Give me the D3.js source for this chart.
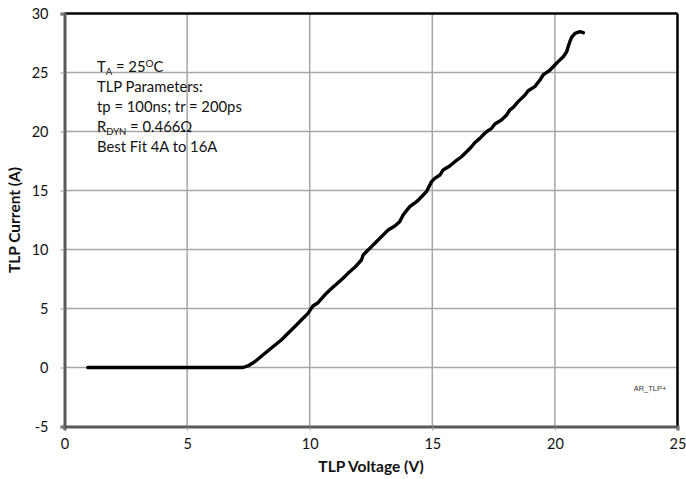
<!DOCTYPE html>
<html><head><meta charset="utf-8">
<script src="https://cdn.jsdelivr.net/npm/d3@7"></script>
<style>
body{margin:0;background:#fff;}
svg{font-family:Lato, "Liberation Sans", sans-serif;}
</style></head>
<body><div id="chart"></div>
<script>
const voltage = [0.95,7.28,7.48,7.76,8.09,8.50,8.84,9.18,9.46,9.66,9.93,10.13,10.34,10.61,10.82,11.36,11.56,11.84,12.11,12.18,12.38,12.52,12.72,13.06,13.20,13.47,13.67,13.81,14.08,14.36,14.56,14.76,14.97,15.10,15.31,15.44,15.71,15.92,16.19,16.40,16.60,16.73,16.94,17.07,17.21,17.42,17.55,17.82,18.03,18.16,18.30,18.50,18.78,18.91,19.18,19.39,19.52,19.80,19.93,20.13,20.34,20.48,20.54,20.61,20.68,20.82,21.02,21.16];
const current = [0,0,0.13,0.49,1.06,1.76,2.33,3.03,3.60,4.03,4.59,5.21,5.49,6.14,6.57,7.56,7.98,8.49,9.11,9.53,9.96,10.24,10.66,11.37,11.65,11.99,12.36,12.92,13.63,14.05,14.47,14.90,15.75,16.03,16.31,16.74,17.08,17.44,17.86,18.29,18.71,19.05,19.42,19.70,19.98,20.27,20.64,20.97,21.40,21.82,22.05,22.53,23.09,23.46,23.80,24.36,24.79,25.21,25.49,25.92,26.34,26.76,27.19,27.61,27.98,28.32,28.46,28.37];
const xTicks = [0,5,10,15,20,25];
const yTicks = [-5,0,5,10,15,20,25,30];
const xTitle = "TLP Voltage (V)";
const yTitle = "TLP Current (A)";
const tag = "AR_TLP+";

const W=686,H=479;
const L=64.5,R=677.5,T=13.5,B=426.5;
const svg=d3.select("#chart").append("svg").attr("width",W).attr("height",H);
const x=d3.scaleLinear().domain([0,25]).range([L,R]);
const y=d3.scaleLinear().domain([-5,30]).range([B,T]);
const fmt=d=>String(d);

// grid
svg.append("g").selectAll("line").data(xTicks.slice(1,-1)).join("line")
  .attr("x1",d=>x(d)).attr("x2",d=>x(d)).attr("y1",T).attr("y2",B)
  .attr("stroke","#a6a6a6").attr("stroke-width",1.5);
svg.append("g").selectAll("line").data(yTicks.slice(1,-1)).join("line")
  .attr("y1",d=>y(d)).attr("y2",d=>y(d)).attr("x1",L).attr("x2",R)
  .attr("stroke","#a6a6a6").attr("stroke-width",1.5);

// frame top/right
svg.append("line").attr("x1",L).attr("x2",R).attr("y1",T).attr("y2",T).attr("stroke","#000").attr("stroke-width",2.5);
svg.append("line").attr("x1",R).attr("x2",R).attr("y1",T).attr("y2",B).attr("stroke","#000").attr("stroke-width",2.5);

// axes
const xa=svg.append("g").attr("transform",`translate(0,${B})`)
  .call(d3.axisBottom(x).tickValues(xTicks).tickFormat(fmt).tickSize(4).tickPadding(8));
const ya=svg.append("g").attr("transform",`translate(${L},0)`)
  .call(d3.axisLeft(y).tickValues(yTicks).tickFormat(fmt).tickSize(4).tickPadding(12));
[xa,ya].forEach(a=>{
  a.select(".domain").attr("stroke","#595959").attr("stroke-width",3);
  a.selectAll(".tick line").attr("stroke","#999").attr("stroke-width",1);
  a.selectAll("text").attr("font-size",14.5).attr("fill","#111").attr("font-family","Lato, sans-serif");
});

// curve
svg.append("path").datum(voltage.map((v,i)=>[v,current[i]]))
  .attr("fill","none").attr("stroke","#000").attr("stroke-width",3.4)
  .attr("stroke-linejoin","round").attr("stroke-linecap","round")
  .attr("d",d3.line().x(d=>x(d[0])).y(d=>y(d[1])));

// titles
svg.append("text").attr("x",(L+R)/2).attr("y",472).attr("text-anchor","middle")
  .attr("font-weight","bold").attr("font-size",15.5).attr("fill","#111").text(xTitle);
svg.append("text").attr("transform",`translate(20,${(T+B)/2}) rotate(-90)`).attr("text-anchor","middle")
  .attr("font-weight","bold").attr("font-size",15.5).attr("fill","#111").text(yTitle);

// annotation
const ann=svg.append("g").attr("font-size",14.8).attr("fill","#111");
const ax=97;
let t=ann.append("text").attr("x",ax).attr("y",72);
t.append("tspan").text("T");
t.append("tspan").attr("font-size",9.5).attr("dy",3).text("A");
t.append("tspan").attr("dy",-3).text(" = 25");
t.append("tspan").attr("font-size",10).attr("dy",-5).text("O");
t.append("tspan").attr("dy",5).text("C");
ann.append("text").attr("x",ax).attr("y",92).text("TLP Parameters:");
ann.append("text").attr("x",ax).attr("y",112).text("tp = 100ns; tr = 200ps");
t=ann.append("text").attr("x",ax).attr("y",132);
t.append("tspan").text("R");
t.append("tspan").attr("font-size",9.5).attr("dy",3).text("DYN");
t.append("tspan").attr("dy",-3).text(" = 0.466Ω");
ann.append("text").attr("x",ax).attr("y",152).text("Best Fit 4A to 16A");

svg.append("text").attr("x",650).attr("y",391).attr("text-anchor","middle")
  .attr("font-family","Liberation Sans, Arial, sans-serif").attr("font-size",7.5).attr("fill","#333").text(tag);
</script></body></html>
